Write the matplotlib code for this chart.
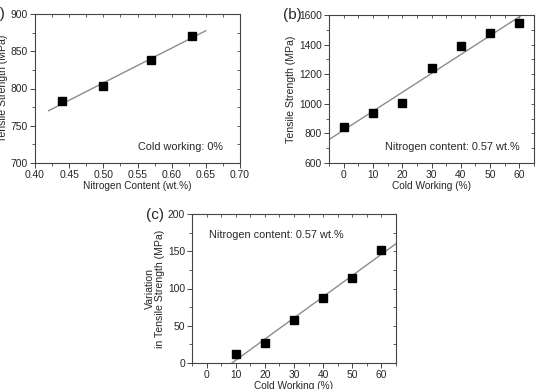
import numpy as np
import matplotlib
matplotlib.use("Agg")
import matplotlib.pyplot as plt
from matplotlib.ticker import MultipleLocator

plt.rcParams['font.family'] = ['Liberation Sans', 'DejaVu Sans']

# Data
nitrogen_a = [0.44, 0.50, 0.57, 0.63]
strength_a = [783, 803.5, 838, 871]

cold_b = [0, 10, 20, 30, 40, 50, 60]
strength_b = [840, 937, 1004, 1243, 1393, 1476, 1543]

cold_c = [10, 20, 30, 40, 50, 60]
variation_c = [11.6, 26.4, 57.3, 86.8, 114.5, 152]

TXT = '#262626'
W, H = 536, 389
fig = plt.figure(figsize=(W / 100, H / 100), dpi=100)


def make_ax(l, t, r, b):
    return fig.add_axes([l / W, 1 - b / H, (r - l) / W, (b - t) / H])


def style(ax, xmaj, xmin, ymaj, ymin):
    ax.xaxis.set_major_locator(MultipleLocator(xmaj))
    ax.xaxis.set_minor_locator(MultipleLocator(xmin))
    ax.yaxis.set_major_locator(MultipleLocator(ymaj))
    ax.yaxis.set_minor_locator(MultipleLocator(ymin))
    for s in ax.spines.values():
        s.set_color('#444444')
        s.set_linewidth(0.8)
    ax.tick_params(which='major', direction='out', length=3.5, width=0.7,
                   color='#444444', labelsize=7.4, labelcolor=TXT, pad=1.5)
    ax.tick_params(which='minor', direction='out', length=2, width=0.6,
                   color='#444444')
    # mirrored inward ticks on top/right
    sx = ax.secondary_xaxis('top')
    sx.xaxis.set_major_locator(MultipleLocator(xmaj))
    sx.xaxis.set_minor_locator(MultipleLocator(xmin))
    sx.tick_params(which='both', direction='in', length=2, width=0.6,
                   color='#444444', labeltop=False)
    sx.spines['top'].set_visible(False)
    sy = ax.secondary_yaxis('right')
    sy.yaxis.set_major_locator(MultipleLocator(ymaj))
    sy.yaxis.set_minor_locator(MultipleLocator(ymin))
    sy.tick_params(which='both', direction='in', length=2, width=0.6,
                   color='#444444', labelright=False)
    sy.spines['right'].set_visible(False)


def fit(x, y):
    return np.polyfit(np.asarray(x, float), np.asarray(y, float), 1)


LINE = '#8c8c8c'
ANN = 7.8

# Panel (a)
ax = make_ax(35, 14, 240, 163)
p = fit(nitrogen_a, strength_a)
xl = np.array([0.42, 0.65])
ax.plot(xl, np.polyval(p, xl), color=LINE, lw=1.0)
ax.plot(nitrogen_a, strength_a, 's', color='black', ms=5.7)
ax.set_xlim(0.40, 0.70)
ax.set_ylim(700, 900)
style(ax, 0.05, 0.025, 50, 25)
ax.xaxis.set_major_formatter(plt.FormatStrFormatter('%.2f'))
ax.set_xlabel('Nitrogen Content (wt.%)', fontsize=7.3, color=TXT, labelpad=1)
ax.set_ylabel('Tensile Strength (MPa)', fontsize=7.6, color=TXT, labelpad=2)
ax.text(0.50, 0.11, 'Cold working: 0%', transform=ax.transAxes,
        fontsize=ANN, color=TXT, va='center')
fig.text(5 / W, 1 - 14 / H, '(a)', fontsize=11, color=TXT, ha='right', va='center')

# Panel (b)
ax = make_ax(329, 15, 534, 163)
p = fit(cold_b, strength_b)
xl = np.array([-5, 61])
ax.plot(xl, np.polyval(p, xl), color=LINE, lw=1.0)
ax.plot(cold_b, strength_b, 's', color='black', ms=5.7)
ax.set_xlim(-5, 65)
ax.set_ylim(600, 1600)
style(ax, 10, 5, 200, 100)
ax.set_xlabel('Cold Working (%)', fontsize=7.3, color=TXT, labelpad=1)
ax.set_ylabel('Tensile Strength (MPa)', fontsize=7.6, color=TXT, labelpad=2)
ax.text(0.275, 0.11, 'Nitrogen content: 0.57 wt.%', transform=ax.transAxes,
        fontsize=ANN, color=TXT, va='center')
fig.text(292 / W, 1 - 15 / H, '(b)', fontsize=11, color=TXT, ha='center', va='center')

# Panel (c)
ax = make_ax(192, 214, 396, 363)
p = fit(cold_c, variation_c)
xl = np.array([-p[1] / p[0], 65])
ax.plot(xl, np.polyval(p, xl), color=LINE, lw=1.0)
ax.plot(cold_c, variation_c, 's', color='black', ms=5.7)
ax.set_xlim(-5, 65)
ax.set_ylim(0, 200)
style(ax, 10, 5, 50, 25)
ax.set_xlabel('Cold Working (%)', fontsize=7.3, color=TXT, labelpad=1)
ax.set_ylabel('Variation\nin Tensile Strength (MPa)', fontsize=7.6, color=TXT,
              labelpad=2, linespacing=1.0)
ax.text(0.085, 0.86, 'Nitrogen content: 0.57 wt.%', transform=ax.transAxes,
        fontsize=ANN, color=TXT, va='center')
fig.text(155 / W, 1 - 215 / H, '(c)', fontsize=11, color=TXT, ha='center', va='center')

fig.savefig('out.png', dpi=100)
